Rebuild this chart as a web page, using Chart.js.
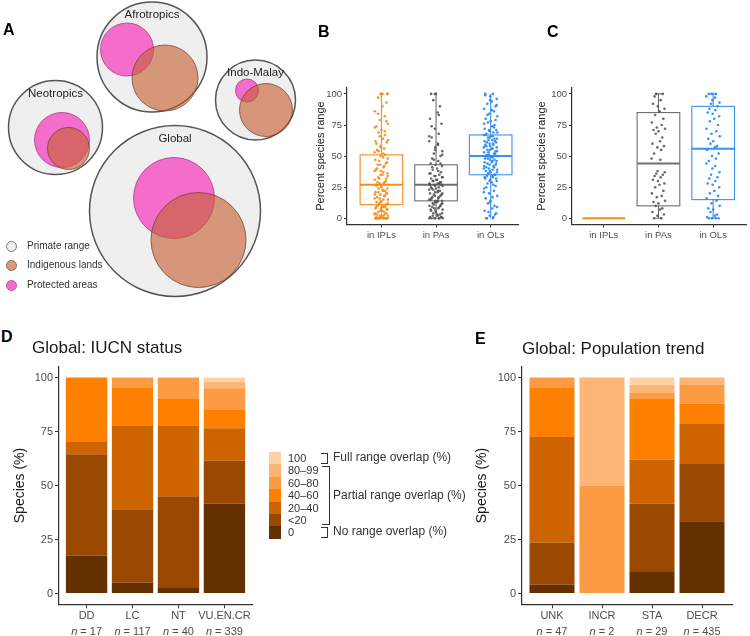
<!DOCTYPE html>
<html>
<head>
<meta charset="utf-8">
<script src="https://cdn.jsdelivr.net/npm/chart.js@4.4.1/dist/chart.umd.min.js"></script>
<style>
  body { margin: 0; background: #fff; font-family: "Liberation Sans", Arial, sans-serif; }
  #wrap { position: relative; width: 750px; height: 636px; overflow: hidden; }
  canvas { position: absolute; }
  .t { position: absolute; white-space: nowrap; color: #333; }
  .letter { position: absolute; font-weight: bold; font-size: 16px; line-height: 16px; color: #000; }
  .title { position: absolute; font-size: 17px; line-height: 18px; color: #1a1a1a; white-space: nowrap; }
  .dot { position: absolute; width: 9px; height: 9px; border-radius: 50%; }
  .sw { position: absolute; left: 269px; width: 12px; height: 12.4px; }
  .lv { position: absolute; left: 288px; font-size: 11px; line-height: 12px; color: #333; }
  .br { position: absolute; border: 1px solid #333; border-left: none; }
  .brt { position: absolute; left: 333px; font-size: 12px; line-height: 13px; color: #333; white-space: nowrap; }
</style>
</head>
<body>
<div id="wrap">
  <canvas id="chartA" width="320" height="310" style="left:0;top:0"></canvas>
  <canvas id="chartB" width="235" height="175" style="left:290px;top:80px"></canvas>
  <canvas id="chartC" width="235" height="175" style="left:515px;top:80px"></canvas>
  <canvas id="chartD" width="256" height="281" style="left:0;top:355px"></canvas>
  <canvas id="chartE" width="290" height="281" style="left:460px;top:355px"></canvas>

  <div class="letter" style="left:3px;top:22px">A</div>
  <div class="letter" style="left:318px;top:24px">B</div>
  <div class="letter" style="left:547px;top:24px">C</div>
  <div class="letter" style="left:1px;top:329px">D</div>
  <div class="letter" style="left:475px;top:331px">E</div>

  <div class="title" style="left:32px;top:339px">Global: IUCN status</div>
  <div class="title" style="left:522px;top:340px">Global: Population trend</div>

  <!-- legend of panel A -->
  <div class="dot" style="left:6px;top:241px;background:#efefef;border:1px solid #777"></div>
  <div class="dot" style="left:6px;top:260px;background:#d59b7b;border:1px solid #9d6a52"></div>
  <div class="dot" style="left:6px;top:280px;background:#f46ccb;border:1px solid #c04e9e"></div>
  <div class="t" style="left:27px;top:240px;font-size:10px">Primate range</div>
  <div class="t" style="left:27px;top:259px;font-size:10px">Indigenous lands</div>
  <div class="t" style="left:27px;top:279px;font-size:10px">Protected areas</div>

  <!-- legend of panels D and E -->
  <div id="overlapLegend"></div>
  <div class="br" style="left:321px;top:453px;width:6px;height:9px"></div>
  <div class="br" style="left:322px;top:466px;width:7px;height:57px"></div>
  <div class="br" style="left:321px;top:527px;width:6px;height:9px"></div>
  <div class="brt" style="left:333px;top:451px">Full range overlap (%)</div>
  <div class="brt" style="left:333px;top:489px">Partial range overlap (%)</div>
  <div class="brt" style="left:333px;top:525px">No range overlap (%)</div>
</div>

<script>
const FONT = '"Liberation Sans", Arial, sans-serif';

// panel A: circles (x, y, radius on the 320 x 310 frame of the panel)
const regions = ['Afrotropics', 'Neotropics', 'Indo-Malay', 'Global'];
const primateX = [152, 55.5, 255.5, 175];
const primateY = [57, 127.5, 100, 211];
const primateR = [55, 47, 40, 85.5];
const protectedX = [127, 62, 247, 174];
const protectedY = [49.5, 140, 90.5, 198];
const protectedR = [26.5, 27.5, 11.5, 40.5];
const indigenousX = [165, 68.5, 266, 198.5];
const indigenousY = [78, 148.5, 110, 240];
const indigenousR = [33, 21, 26.5, 47.5];

// panels B and C: percent of species range
const groups = ['in IPLs', 'in PAs', 'in OLs'];
const yTicks = [0, 25, 50, 75, 100];
// [lower whisker, q1, median, q3, upper whisker]
const statsB = [[0, 11, 27, 51, 100], [0, 14, 27, 43, 100], [0, 35, 50, 67, 100]];
const statsC = [[0, 0, 0, 0, 0], [0, 10, 44, 85, 100], [0, 15, 56, 90, 100]];

const iplB = [0, 0, 0, 0, 0, 0, 0, 0, 1, 1, 2, 2, 3, 4, 4, 5, 6, 7, 8, 9, 10, 10,
  11, 12, 12, 14, 15, 16, 17, 18, 19, 20, 21, 22, 22, 24, 25, 26,
  27, 28, 29, 31, 32, 33, 35, 36, 38, 39, 41, 43, 44, 46, 48, 50,
  52, 53, 55, 56, 58, 61, 62, 64, 67, 69, 71, 74, 76, 79, 82, 86, 93, 97, 100, 100, 100,
  0, 0, 0, 0, 0, 0, 1, 2, 3, 3, 5, 6, 7, 8, 9, 9, 11, 13, 13, 15, 16, 18, 19, 20, 21, 23, 24,
  26, 27, 28, 29, 30, 32, 34, 35, 37, 38, 40, 42, 43, 45, 47, 49, 51, 54, 57, 60, 63, 66, 70,
  73, 78, 84, 90, 100, 100];
const paB = [0, 0, 0, 1, 1, 2, 3, 4, 5, 6, 7, 8, 9, 10, 11, 12, 13, 14,
  14, 15, 16, 17, 18, 19, 20, 21, 22, 23, 24, 25, 26, 27,
  27, 28, 29, 30, 31, 32, 33, 34, 35, 36, 37, 39, 40, 42, 43,
  44, 46, 48, 50, 52, 54, 57, 59, 62, 65, 68, 72, 76, 80, 85, 90, 95, 100, 100,
  0, 0, 0, 0, 1, 2, 3, 4, 6, 7, 8, 9, 10, 11, 12, 13, 14, 15, 16, 17, 18, 19, 20, 21, 22, 23,
  24, 25, 26, 27, 28, 28, 29, 30, 31, 33, 34, 36, 38, 41, 44, 47, 51, 55, 60, 66, 74, 83, 100];
const olB = [0, 1, 2, 4, 6, 8, 10, 12, 14, 16, 18, 20, 22, 24, 26, 28, 29, 30, 31, 32, 33, 34, 35,
  36, 37, 38, 39, 40, 41, 42, 43, 44, 45, 46, 47, 48, 49, 50,
  50, 51, 52, 53, 54, 55, 56, 57, 58, 59, 60, 61, 62, 63, 64, 65, 66, 67,
  68, 69, 70, 71, 72, 74, 75, 77, 78, 80, 82, 84, 86, 88, 90, 92, 94, 96, 98, 100,
  0, 0, 3, 5, 9, 13, 17, 21, 25, 27, 30, 32, 33, 34, 35, 36, 37, 38, 39, 40, 41, 42, 43, 44, 45,
  46, 47, 48, 49, 51, 52, 53, 54, 55, 56, 57, 58, 59, 60, 61, 62, 63, 64, 65, 66, 67, 69, 71, 73,
  76, 79, 83, 87, 91, 95, 99, 100];
const iplC = [];
const paC = [0, 0, 2, 3, 5, 7, 8, 10, 12, 13, 14, 17, 18, 20, 22, 25, 27, 28, 30, 31, 33, 34, 35, 36, 37, 38,
  47, 48, 52, 55, 57, 58, 60, 62, 65, 68, 70, 71, 72, 73, 75, 77, 80, 83, 86, 88, 90, 92, 95, 98, 100, 100];
const olC = [0, 0, 0, 0, 1, 2, 3, 5, 7, 8, 10, 12, 14, 16, 18, 20, 22, 25, 27, 28, 30, 32, 33, 35, 37, 40,
  42, 44, 46, 48, 50, 52, 55, 57, 58, 60, 62, 64, 66, 68, 70, 72, 75, 78, 80, 82, 84, 85, 87, 88, 90,
  92, 93, 95, 97, 98, 100, 100, 100];
const jitter = [-0.08, 0.05, -0.02, 0.1, -0.11, 0.03, 0.07, -0.05, 0.0, -0.09, 0.12, -0.03,
  0.06, -0.12, 0.09, -0.06, 0.02, 0.11, -0.01, -0.1, 0.04, -0.07, 0.08, -0.04, 0.115, -0.015,
  0.035, -0.125];

// panels D and E: species (%) per range-overlap class
const levels = ['0', '<20', '20\u201340', '40\u201360', '60\u201380', '80\u201399', '100'];
const levelColors = ['#653000', '#9b4900', '#cd6400', '#fe8000', '#fd9b45', '#fdb678', '#fdd3a6'];
const iucnCats = ['DD', 'LC', 'NT', 'VU.EN.CR'];
const iucnN = [17, 117, 40, 339];
const iucnValues = [
  [17.5, 5, 2.5, 41.5],
  [47, 34, 42.5, 20],
  [6, 38.5, 32.5, 15],
  [29.5, 18, 12.5, 8.5],
  [0, 4.5, 10, 10],
  [0, 0, 0, 3],
  [0, 0, 0, 2]
];
const trendCats = ['UNK', 'INCR', 'STA', 'DECR'];
const trendN = [47, 2, 29, 435];
const trendValues = [
  [4, 0, 10, 33.5],
  [19.5, 0, 31.5, 26.5],
  [49, 0, 20.5, 18.5],
  [23, 0, 28, 9.5],
  [4.5, 50, 3, 8.5],
  [0, 50, 3.5, 3.5],
  [0, 0, 3.5, 0]
];

// legend swatches for D/E
(function () {
  const box = document.getElementById('overlapLegend');
  for (let k = levels.length - 1; k >= 0; k--) {
    const row = levels.length - 1 - k;
    const top = 452 + row * 12.4;
    box.insertAdjacentHTML('beforeend',
      `<div class="sw" style="top:${top}px;background:${levelColors[k]}"></div>` +
      `<div class="lv" style="top:${top}px">${levels[k].replace('<', '&lt;')}</div>`);
  }
})();

// ---------- panel A
function circles(xs, ys, rs) {
  return xs.map((x, i) => ({ x: x, y: ys[i], r: rs[i] }));
}

const regionLabels = {
  id: 'regionLabels',
  afterDatasetsDraw(chart) {
    const { ctx, scales: { x, y } } = chart;
    ctx.save();
    ctx.font = '11.5px ' + FONT;
    ctx.fillStyle = '#222';
    ctx.textAlign = 'center';
    ctx.textBaseline = 'middle';
    regions.forEach((name, i) => {
      ctx.fillText(name, x.getPixelForValue(primateX[i]), y.getPixelForValue(primateY[i] - primateR[i]) + 13);
    });
    ctx.restore();
  }
};

new Chart(document.getElementById('chartA'), {
  type: 'bubble',
  data: {
    datasets: [
      { label: 'Indigenous lands', data: circles(indigenousX, indigenousY, indigenousR),
        backgroundColor: 'rgba(199,95,50,0.62)', borderColor: 'rgba(110,60,40,0.7)', borderWidth: 1, clip: false },
      { label: 'Protected areas', data: circles(protectedX, protectedY, protectedR),
        backgroundColor: 'rgba(244,98,200,0.92)', borderColor: 'rgba(170,60,130,0.8)', borderWidth: 1, clip: false },
      { label: 'Primate range', data: circles(primateX, primateY, primateR),
        backgroundColor: '#efefef', borderColor: '#555', borderWidth: 1.5, clip: false }
    ]
  },
  options: {
    responsive: false, animation: false, events: [],
    layout: { padding: 0, autoPadding: false },
    plugins: { legend: { display: false }, tooltip: { enabled: false } },
    scales: {
      x: { type: 'linear', display: false, min: 0, max: 320 },
      y: { type: 'linear', display: false, min: 0, max: 310, reverse: true }
    }
  },
  plugins: [regionLabels]
});

// ---------- panels B and C
const BOX_HALF = 0.39;
const CAP_HALF = 0.07;

const boxPlugin = {
  id: 'boxes',
  beforeDatasetsDraw(chart, args, opts) {
    const { ctx, scales: { x, y } } = chart;
    opts.stats.forEach((s, i) => {
      const [lo, q1, med, q3, hi] = s;
      const c = i + 1;
      const xc = x.getPixelForValue(c);
      const xl = x.getPixelForValue(c - BOX_HALF);
      const xr = x.getPixelForValue(c + BOX_HALF);
      ctx.save();
      ctx.strokeStyle = opts.colors[i];
      ctx.lineWidth = 1.1;
      ctx.beginPath();
      ctx.moveTo(xc, y.getPixelForValue(q3));
      ctx.lineTo(xc, y.getPixelForValue(hi));
      ctx.moveTo(xc, y.getPixelForValue(q1));
      ctx.lineTo(xc, y.getPixelForValue(lo));
      if (opts.caps && hi > lo) {
        [lo, hi].forEach(v => {
          ctx.moveTo(x.getPixelForValue(c - CAP_HALF), y.getPixelForValue(v));
          ctx.lineTo(x.getPixelForValue(c + CAP_HALF), y.getPixelForValue(v));
        });
      }
      ctx.stroke();
      if (q3 > q1) {
        ctx.strokeRect(xl, y.getPixelForValue(q3), xr - xl, y.getPixelForValue(q1) - y.getPixelForValue(q3));
      }
      ctx.lineWidth = 2;
      ctx.beginPath();
      ctx.moveTo(xl, y.getPixelForValue(med));
      ctx.lineTo(xr, y.getPixelForValue(med));
      ctx.stroke();
      ctx.restore();
    });
  }
};

function jittered(values, pos) {
  return values.map((v, i) => ({ x: pos + jitter[i % jitter.length], y: v }));
}

const pointColors = ['rgba(247,140,25,0.9)', 'rgba(80,80,80,0.85)', 'rgba(40,135,240,0.9)'];
const boxColors = ['#f98b1c', '#6e6e6e', '#3a91ee'];

function boxChart(id, series, stats, xmin, xmax, titlePad, caps) {
  return new Chart(document.getElementById(id), {
    type: 'scatter',
    data: {
      datasets: series.map((vals, i) => ({
        data: jittered(vals, i + 1),
        backgroundColor: pointColors[i],
        borderWidth: 0,
        pointRadius: 1.3
      }))
    },
    options: {
      responsive: false, animation: false, events: [],
      layout: { padding: { left: 0, top: 7, right: id === 'chartB' ? 7 : 3, bottom: 0 } },
      plugins: { legend: { display: false }, tooltip: { enabled: false },
        boxes: { stats: stats, colors: boxColors, caps: caps } },
      scales: {
        x: {
          type: 'linear', min: xmin, max: xmax,
          afterBuildTicks: s => { s.ticks = groups.map((g, i) => ({ value: i + 1 })); },
          afterFit: s => { s.height = 30.5; },
          grid: { drawOnChartArea: false, tickLength: 3, color: '#333' },
          border: { color: '#333', width: 1.2 },
          ticks: { callback: (v, i) => groups[i], color: '#4d4d4d', font: { size: 9.5, family: FONT },
            padding: 2, maxRotation: 0, autoSkip: false }
        },
        y: {
          type: 'linear', min: -5, max: 105,
          afterBuildTicks: s => { s.ticks = yTicks.map(v => ({ value: v })); },
          afterFit: s => { s.width = 57; },
          grid: { drawOnChartArea: false, tickLength: 3, color: '#333' },
          border: { color: '#333', width: 1.2 },
          ticks: { color: '#4d4d4d', font: { size: 9.5, family: FONT }, padding: 2 },
          title: { display: true, text: 'Percent species range', color: '#222',
            font: { size: 11, family: FONT }, padding: { top: titlePad, bottom: 0 } }
        }
      }
    },
    plugins: [boxPlugin]
  });
}

boxChart('chartB', [iplB, paB, olB], statsB, 0.37, 3.5, 24, false);
boxChart('chartC', [iplC, paC, olC], statsC, 0.42, 3.6, 20, true);

// ---------- panels D and E
const nLabels = {
  id: 'nLabels',
  afterDraw(chart, args, opts) {
    const { ctx, scales: { x } } = chart;
    ctx.save();
    ctx.fillStyle = '#4d4d4d';
    ctx.textBaseline = 'middle';
    ctx.textAlign = 'left';
    opts.counts.forEach((n, i) => {
      const xc = x.getPixelForValue(i + 1);
      const rest = ' = ' + n;
      ctx.font = 'italic 11px ' + FONT;
      const w1 = ctx.measureText('n').width;
      ctx.font = '11px ' + FONT;
      const w2 = ctx.measureText(rest).width;
      const x0 = xc - (w1 + w2) / 2;
      ctx.font = 'italic 11px ' + FONT;
      ctx.fillText('n', x0, x.top + 28);
      ctx.font = '11px ' + FONT;
      ctx.fillText(rest, x0 + w1, x.top + 28);
    });
    ctx.restore();
  }
};

function stackedChart(id, cats, counts, values, yWidth, padRight, titlePad) {
  return new Chart(document.getElementById(id), {
    type: 'bar',
    data: {
      datasets: levels.map((lvl, k) => ({
        label: lvl,
        data: values[k].map((v, i) => ({ x: i + 1, y: v })),
        backgroundColor: levelColors[k],
        borderWidth: 0,
        categoryPercentage: 0.9,
        barPercentage: 1
      }))
    },
    options: {
      responsive: false, animation: false, events: [],
      layout: { padding: { left: 0, top: 11.7, right: padRight, bottom: 0 } },
      plugins: { legend: { display: false }, tooltip: { enabled: false }, nLabels: { counts: counts } },
      scales: {
        x: {
          type: 'linear', stacked: true, offset: false, min: 0.4, max: 4.6,
          afterBuildTicks: s => { s.ticks = cats.map((c, i) => ({ value: i + 1 })); },
          afterFit: s => { s.height = 31.7; },
          grid: { offset: false, drawOnChartArea: false, tickLength: 4, color: '#333' },
          border: { color: '#333', width: 1.2 },
          ticks: { callback: (v, i) => cats[i], color: '#4d4d4d', font: { size: 11, family: FONT },
            padding: 1, maxRotation: 0, autoSkip: false }
        },
        y: {
          type: 'linear', stacked: true, min: -5, max: 105,
          afterBuildTicks: s => { s.ticks = yTicks.map(v => ({ value: v })); },
          afterFit: s => { s.width = yWidth; },
          grid: { drawOnChartArea: false, tickLength: 4, color: '#333' },
          border: { color: '#333', width: 1.2 },
          ticks: { color: '#4d4d4d', font: { size: 11, family: FONT }, padding: 2 },
          title: { display: true, text: 'Species (%)', color: '#1a1a1a',
            font: { size: 14, family: FONT }, padding: { top: titlePad, bottom: 0 } }
        }
      }
    },
    plugins: [nLabels]
  });
}

stackedChart('chartD', iucnCats, iucnN, iucnValues, 59, 4, 11.6);
stackedChart('chartE', trendCats, trendN, trendValues, 62, 18, 13.3);
</script>
</body>
</html>
